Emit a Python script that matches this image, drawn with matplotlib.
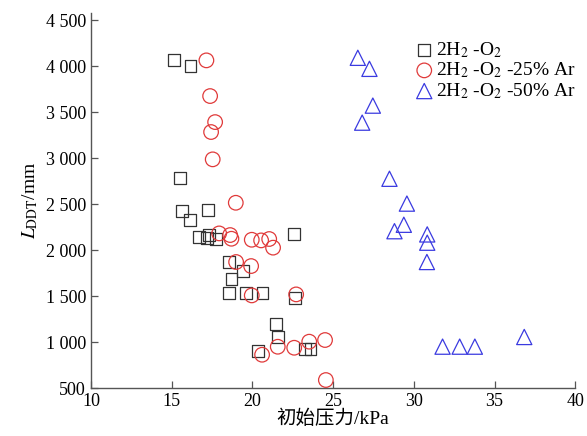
import matplotlib
matplotlib.use('Agg')
import matplotlib.pyplot as plt
from matplotlib.ticker import FuncFormatter

plt.rcParams['font.family'] = ['Liberation Serif', 'Noto Sans CJK SC']
plt.rcParams['mathtext.fontset'] = 'stix'

# 2H2-O2
sq_x = [15.15, 16.16, 15.5, 15.62, 17.23, 16.14, 16.70, 17.17, 17.33, 17.75, 22.59,
        18.53, 19.4, 18.70, 18.53, 19.6, 20.62, 22.63, 21.47, 21.57, 20.35, 23.25, 23.6]
sq_y = [4065, 4003, 2783, 2427, 2438, 2323, 2138, 2127, 2163, 2123, 2177,
        1870, 1770, 1682, 1533, 1533, 1533, 1482, 1196, 1058, 899, 924, 927]

# 2H2-O2-25% Ar
ci_x = [17.15, 17.38, 17.69, 17.44, 17.54, 18.97, 17.94, 18.62, 18.70, 19.96, 20.54,
        21.04, 21.28, 18.99, 19.92, 19.96, 22.71, 20.6, 21.57, 22.59, 23.52, 24.5, 24.55]
ci_y = [4062, 3674, 3391, 3283, 2986, 2514, 2181, 2163, 2123, 2112, 2105,
        2120, 2026, 1870, 1826, 1507, 1518, 862, 949, 938, 1004, 1022, 587]

# 2H2-O2-50% Ar
tr_x = [26.53, 27.25, 27.46, 26.80, 28.49, 29.57, 29.38, 28.80, 30.83, 30.83, 30.81,
        31.78, 32.84, 33.78, 36.84]
tr_y = [4090, 3970, 3570, 3385, 2775, 2505, 2275, 2205, 2170, 2080, 1870,
        950, 950, 950, 1055]

x_ticks = [10, 15, 20, 25, 30, 35, 40]
y_ticks = [500, 1000, 1500, 2000, 2500, 3000, 3500, 4000, 4500]

fig = plt.figure(figsize=(5.87, 4.36), dpi=100)
ax = fig.add_axes([0.155, 0.110, 0.825, 0.860])

ax.scatter(sq_x, sq_y, marker='s', s=72, facecolors='none', edgecolors='#333333',
           linewidths=0.9, label='2H$_2$ -O$_2$', zorder=3)
ax.scatter(ci_x, ci_y, marker='o', s=110, facecolors='none', edgecolors='#e03a3a',
           linewidths=0.9, label='2H$_2$ -O$_2$ -25% Ar', zorder=3)
ax.scatter(tr_x, tr_y, marker='^', s=120, facecolors='none', edgecolors='#3a3ae0',
           linewidths=0.9, label='2H$_2$ -O$_2$ -50% Ar', zorder=3)

ax.set_xlim(10, 40)
ax.set_ylim(500, 4576)
ax.set_xticks(x_ticks)
ax.set_yticks(y_ticks)
ax.yaxis.set_major_formatter(FuncFormatter(lambda v, p: f'{int(v):,}'.replace(',', ' ')))

for s in ['top', 'right']:
    ax.spines[s].set_visible(False)
for s in ['left', 'bottom']:
    ax.spines[s].set_color('#555555')
    ax.spines[s].set_linewidth(1.0)
ax.tick_params(direction='in', length=5, width=0.9, color='#555555', labelsize=13)

ax.set_xlabel('初始压力/kPa', fontsize=14, labelpad=0)
ax.set_ylabel('$L_{\\mathrm{DDT}}$/mm', fontsize=14, labelpad=4)

ax.legend(loc='upper left', bbox_to_anchor=(0.64, 0.965), frameon=False, fontsize=14,
          handletextpad=0.1, labelspacing=0.05, borderpad=0.2, handlelength=1.0)

fig.savefig('out.png', dpi=100)
